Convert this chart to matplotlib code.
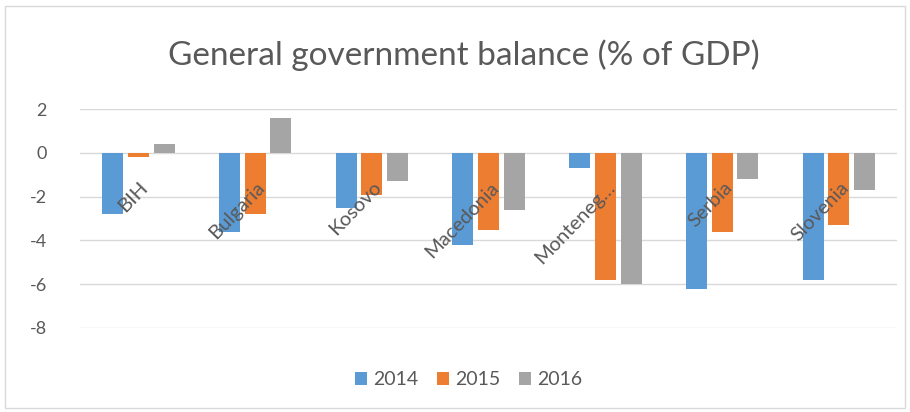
import numpy as np
import matplotlib.pyplot as plt
from matplotlib.patches import Rectangle

countries = ['BIH', 'Bulgaria', 'Kosovo', 'Macedonia', 'Monteneg…', 'Serbia', 'Slovenia']
years = ['2014', '2015', '2016']
bal_2014 = [-2.8, -3.6, -2.5, -4.2, -0.7, -6.2, -5.8]
bal_2015 = [-0.2, -2.8, -1.9, -3.5, -5.8, -3.6, -3.3]
bal_2016 = [0.4, 1.6, -1.3, -2.6, -6.0, -1.2, -1.7]
yticks = [2, 0, -2, -4, -6, -8]

colors = ['#5B9BD5', '#ED7D31', '#A5A5A5']
txt = '#595959'

plt.rcParams['font.family'] = ['Lato', 'DejaVu Sans']

fig = plt.figure(figsize=(9.1, 4.12), dpi=100)
ax = fig.add_axes([0.088, 0.204, 0.898, 0.531])

x = np.arange(len(countries))
width = 0.18
step = 0.22
for i, (vals, yr) in enumerate(zip([bal_2014, bal_2015, bal_2016], years)):
    ax.bar(x + (i - 1) * step, vals, width, color=colors[i], label=yr, zorder=3)

ax.set_xlim(-0.5, len(countries) - 0.5)
ax.set_ylim(-8, 2)
ax.set_yticks(yticks)
ax.set_yticklabels([str(t) for t in yticks], color=txt, fontsize=13)
ax.tick_params(axis='y', length=0, pad=24)
ax.set_xticks([])
ax.grid(axis='y', color='#D9D9D9', linewidth=1, zorder=0)
for s in ax.spines.values():
    s.set_visible(False)

# category labels sit inside the plot next to the zero line
for xi, name in zip(x, countries):
    ax.text(xi + 0.06, -1.45, name, rotation=46, rotation_mode='anchor',
            ha='right', va='center', fontsize=14.5, color=txt, zorder=4)

fig.text(0.51, 0.865, 'General government balance (% of GDP)', ha='center', va='center',
         fontsize=24, color=txt)

fig.legend(loc='center', bbox_to_anchor=(0.515, 0.078), ncol=3, frameon=False,
           fontsize=14, handlelength=0.6, handleheight=0.6, handletextpad=0.3,
           columnspacing=1.0, labelcolor=txt)

fig.patches.append(Rectangle((0.005, 0.01), 0.99, 0.975, transform=fig.transFigure,
                             fill=False, edgecolor='#D9D9D9', linewidth=1))

fig.savefig('out.png', dpi=100)
